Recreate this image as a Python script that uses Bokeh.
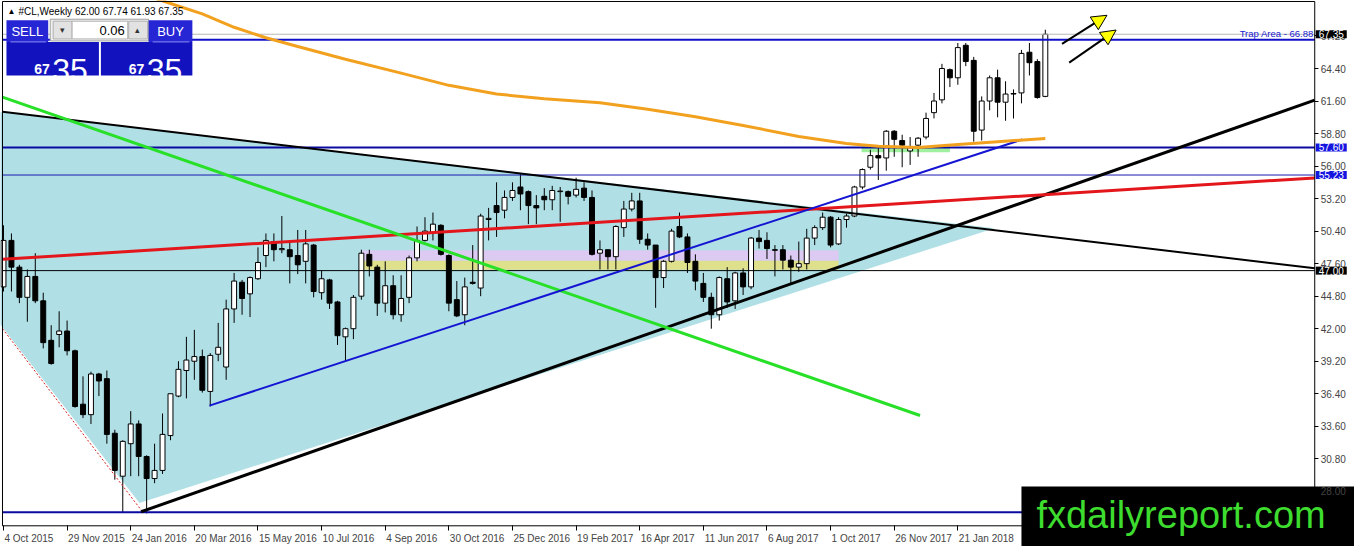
import numpy as np
from bokeh.embed import file_html
from bokeh.models import Arrow, FixedTicker, Label, NormalHead, PrintfTickFormatter, Range1d
from bokeh.plotting import figure
from bokeh.resources import INLINE

# weekly bars of #CL, bar 0 = week of 4 Oct 2015, bar 131 = week of 8 Apr 2018
opens = [45.6, 49.6, 47.3, 44.7, 46.5, 44.4, 41.0, 41.5, 41.8, 40.1,
         35.5, 34.6, 38.1, 37.7, 33.0, 29.3, 32.1, 33.8, 31.0, 29.1,
         29.8, 32.8, 36.2, 38.4, 39.2, 39.6, 36.6, 39.8, 38.7, 43.7,
         46.0, 45.0, 46.3, 48.3, 49.5, 48.8, 48.8, 48.3, 47.8, 49.2,
         45.1, 46.2, 44.3, 41.3, 42.0, 44.8, 48.4, 47.3, 44.2, 45.7,
         43.2, 44.7, 48.1, 49.6, 50.3, 50.9, 48.3, 44.5, 43.2, 46.0,
         45.5, 51.4, 52.6, 52.2, 53.3, 54.2, 53.8, 52.6, 53.4, 53.1,
         53.8, 53.8, 53.5, 54.1, 53.3, 48.5, 48.8, 48.2, 50.7, 52.3,
         53.0, 49.7, 49.2, 46.4, 47.8, 50.8, 49.9, 47.8, 45.9, 44.7,
         43.2, 46.3, 44.4, 46.8, 45.6, 49.8, 49.6, 48.8, 48.8, 47.9,
         47.3, 47.6, 49.8, 50.7, 51.6, 49.3, 51.4, 51.7, 54.2, 55.9,
         56.9, 56.7, 59.0, 58.2, 57.3, 57.8, 58.5, 60.6, 61.7, 64.3,
         63.6, 66.4, 65.1, 59.1, 61.6, 63.6, 61.5, 62.2, 62.3, 65.8,
         65.0, 62.00]
highs = [50.9, 50.2, 47.5, 47.1, 48.5, 45.1, 42.3, 43.5, 42.7, 40.2,
         37.9, 38.3, 38.2, 38.4, 33.3, 32.4, 34.9, 34.1, 31.1, 32.1,
         34.7, 36.4, 39.2, 41.3, 41.9, 40.2, 39.9, 42.5, 44.5, 46.8,
         46.2, 46.5, 49.0, 50.2, 50.2, 51.7, 49.5, 50.5, 50.5, 49.3,
         47.0, 46.3, 44.4, 42.1, 44.9, 48.8, 48.8, 47.5, 47.8, 46.6,
         46.6, 48.3, 50.8, 51.6, 52.0, 51.0, 48.4, 46.1, 46.4, 49.2,
         51.9, 52.4, 54.6, 53.9, 54.6, 55.3, 53.9, 53.5, 54.1, 54.3,
         54.2, 53.9, 55.0, 54.6, 53.9, 49.6, 48.8, 50.9, 53.0, 53.7,
         53.7, 50.2, 49.2, 47.9, 50.6, 52.0, 50.2, 48.4, 46.8, 45.1,
         46.5, 47.3, 46.9, 47.2, 49.9, 50.5, 50.3, 49.2, 49.2, 48.3,
         49.5, 50.6, 50.9, 52.0, 51.7, 51.6, 51.9, 54.3, 55.8, 57.4,
         57.7, 59.1, 59.1, 58.7, 58.5, 58.5, 60.6, 62.3, 64.8, 64.4,
         66.6, 66.6, 65.4, 62.0, 63.8, 64.3, 63.3, 62.6, 66.0, 66.6,
         65.2, 67.74]
lows = [45.2, 45.2, 44.2, 42.6, 44.2, 40.3, 38.9, 40.4, 39.7, 35.2,
        34.3, 33.8, 36.2, 32.1, 29.0, 26.2, 29.3, 29.3, 26.1, 28.7,
        29.5, 32.4, 36.1, 36.0, 37.6, 36.5, 35.3, 39.2, 37.6, 42.5,
        43.2, 43.0, 46.2, 47.3, 47.8, 48.5, 45.9, 46.7, 45.9, 44.7,
        44.5, 43.7, 40.6, 39.2, 41.1, 44.5, 46.5, 43.1, 43.4, 42.8,
        42.6, 44.2, 47.8, 49.5, 49.6, 48.3, 43.5, 43.0, 42.3, 45.8,
        44.8, 49.6, 49.9, 51.5, 53.0, 52.2, 51.0, 51.0, 52.2, 52.2,
        51.2, 52.7, 53.3, 53.0, 48.3, 47.1, 47.1, 47.1, 49.9, 52.1,
        49.3, 48.8, 43.8, 45.5, 47.7, 49.8, 46.8, 45.3, 44.3, 42.0,
        42.7, 43.8, 43.7, 44.9, 45.4, 48.9, 48.0, 46.5, 47.1, 45.8,
        46.9, 47.1, 49.2, 50.5, 49.0, 49.2, 50.7, 51.6, 54.0, 55.7,
        54.8, 55.6, 56.8, 55.9, 56.1, 56.8, 58.3, 60.1, 61.4, 62.8,
        63.0, 64.6, 58.1, 58.2, 60.8, 60.2, 59.9, 60.1, 61.4, 63.8,
        61.8, 61.93]
closes = [49.6, 47.3, 44.7, 46.5, 44.4, 40.8, 39.0, 41.8, 40.1, 35.3,
          34.6, 38.1, 37.5, 32.9, 29.8, 32.3, 33.8, 31.0, 29.1, 29.8,
          32.9, 36.4, 38.5, 39.3, 39.6, 36.7, 39.7, 40.4, 43.7, 46.1,
          44.6, 46.4, 47.7, 49.6, 48.8, 48.9, 48.2, 47.5, 49.3, 45.2,
          46.3, 44.2, 41.4, 42.0, 44.7, 48.5, 47.4, 44.2, 45.7, 43.2,
          44.6, 48.1, 49.6, 50.4, 51.0, 48.4, 44.2, 43.1, 45.6, 45.9,
          51.7, 51.5, 52.0, 53.3, 53.9, 53.6, 52.6, 52.4, 53.1, 53.9,
          53.85, 53.4, 54.0, 53.3, 48.4, 48.8, 48.2, 50.8, 52.3, 53.0,
          49.7, 49.2, 46.4, 47.8, 50.4, 49.9, 47.7, 46.1, 44.7, 43.2,
          46.4, 44.3, 46.8, 45.6, 49.8, 49.5, 48.9, 48.75, 47.9, 47.3,
          47.6, 49.8, 50.7, 51.6, 49.2, 51.4, 51.7, 54.2, 55.7, 56.9,
          56.7, 59.0, 58.3, 57.8, 57.6, 58.4, 60.1, 61.6, 64.4, 63.6,
          66.2, 65.0, 59.0, 61.6, 63.6, 61.5, 62.2, 62.25, 65.7, 64.9,
          61.9, 67.35]

# orange moving average at some bars
ma_bar = [19, 21, 25, 29, 33, 37, 43, 50, 56, 62, 68, 75, 81, 87, 93, 100,
          106, 110, 115, 120, 125, 131]
ma_val = [70.45, 70.0, 69.1, 67.95, 67.05, 66.3, 65.2, 64.0, 62.95, 62.2,
          61.8, 61.45, 60.9, 60.25, 59.5, 58.55, 57.95, 57.7, 57.6, 57.85,
          58.1, 58.38]

# time axis labels, one every 8 bars
date_bars = list(range(0, 121, 8))
date_labels = ["4 Oct 2015", "29 Nov 2015", "24 Jan 2016", "20 Mar 2016",
               "15 May 2016", "10 Jul 2016", "4 Sep 2016", "30 Oct 2016",
               "25 Dec 2016", "19 Feb 2017", "16 Apr 2017", "11 Jun 2017",
               "6 Aug 2017", "1 Oct 2017", "26 Nov 2017", "21 Jan 2018"]

price_ticks = [28.0, 30.8, 33.6, 36.4, 39.2, 42.0, 44.8, 47.6, 50.4, 53.2,
               56.0, 58.8, 61.6, 64.4, 67.2]

last_price = 67.35
trap_level = 66.88
blue_levels = [57.60, 26.20]
thin_blue_level = 55.23
black_level = 47.00

# drawn objects: (bar0, price0, bar1, price1)
tri_bar = [-23.4, 17.1, 124.6]
tri_price = [62.5, 27.0, 50.65]
desc_line = [-0.125, 60.67, 164.875, 47.2]
asc_line = [17.3, 26.24, 164.875, 61.68]
red_line = [-0.125, 47.97, 164.875, 54.98]
green_line = [-0.125, 61.94, 115.25, 34.53]
blue_line = [25.9, 35.38, 128.1, 58.29]
dotted_line = [-0.125, 42.0, 17.5, 26.22]
pink_band = [45.0, 105.0, 47.85, 48.75]
yellow_band = [45.0, 105.0, 47.07, 47.85]
green_band = [107.9, 119.0, 57.2, 57.7]
arrow_1 = [133.1, 66.52, 138.75, 68.98]
arrow_2 = [134.0, 64.91, 139.9, 67.71]


# pixel of the original 1362x554 terminal picture -> chart units (for the overlays)
def X(px):
    return (px - 3) / 8.0


def Y(py):
    return 64.4 - (py - 69) / 11.786


FONT = "Liberation Sans"
W, H = 1354, 546
LEFT, RIGHT, TOP, BOTTOM = X(2), X(1322), Y(1), Y(533)

# the frame fills the whole figure; the axes are pinned where the terminal draws them
p = figure(width=W, height=H, x_range=Range1d(X(0), X(1362)), y_range=Range1d(Y(554), Y(0)),
           y_axis_location="right", toolbar_location=None, output_backend="svg",
           min_border=0)
p.outline_line_color = None
p.grid.visible = False
p.background_fill_color = "white"
p.border_fill_color = "white"

# triangle and zones
p.patch(tri_bar, tri_price, fill_color="#b0e0e6", line_color=None)
for band, col in [(pink_band, "#dccaf3"), (yellow_band, "#dfe08c"), (green_band, "#9ff09f")]:
    p.quad(left=[band[0]], right=[band[1]], bottom=[band[2]], top=[band[3]],
           fill_color=col, line_color=None)

# candles
bars = np.arange(len(closes))
o = np.array(opens)
c = np.array(closes)
p.segment(bars, lows, bars, highs, line_color="black", line_width=1)
p.vbar(x=bars, width=0.62, top=np.maximum(o, c), bottom=np.minimum(o, c),
       fill_color=["white" if cc >= oo else "black" for oo, cc in zip(o, c)],
       line_color="black", line_width=1)

# horizontal levels
p.segment([LEFT], [last_price], [RIGHT], [last_price], line_color="#b8b8b8", line_width=1)
p.segment([LEFT], [trap_level], [RIGHT], [trap_level], line_color="#1010c8", line_width=2)
p.segment([LEFT] * 2, blue_levels, [RIGHT] * 2, blue_levels, line_color="#0a0aa0", line_width=2)
p.segment([LEFT], [thin_blue_level], [RIGHT], [thin_blue_level], line_color="#1a1ab0",
          line_width=1)
p.segment([LEFT], [black_level], [RIGHT], [black_level], line_color="black", line_width=1)


# trend lines
def tline(seg, **kw):
    p.line([seg[0], seg[2]], [seg[1], seg[3]], **kw)


tline(dotted_line, line_color="#d42020", line_width=1, line_dash="2 2")
tline(desc_line, line_color="black", line_width=2)
tline(asc_line, line_color="black", line_width=3)
tline(red_line, line_color="#e3161b", line_width=3)
tline(green_line, line_color="#28e028", line_width=3)
tline(blue_line, line_color="#1414d2", line_width=2)
p.line(ma_bar, ma_val, line_color="#f2a11f", line_width=3)

# chart window border
p.quad(left=[LEFT], right=[RIGHT], top=[TOP], bottom=[BOTTOM], fill_color=None,
       line_color="black", line_width=1)

# order panel (top left)
p.quad(left=[X(50)], right=[X(149)], top=[Y(19)], bottom=[Y(41)],
       fill_color="#efefef", line_color="#a0a0a0")
p.quad(left=[X(6), X(149)], right=[X(48), X(193)], top=[Y(20)] * 2, bottom=[Y(42)] * 2,
       fill_color="#2626d4", line_color=None)
p.quad(left=[X(6), X(101)], right=[X(99), X(193)], top=[Y(42)] * 2, bottom=[Y(76)] * 2,
       fill_color="#1212bf", line_color=None)
p.quad(left=[X(53), X(129)], right=[X(72), X(148)], top=[Y(21)] * 2, bottom=[Y(39)] * 2,
       fill_color="#e2e2e2", line_color="#b0b0b0")
p.quad(left=[X(72)], right=[X(128)], top=[Y(21)], bottom=[Y(39)],
       fill_color="white", line_color="#b0b0b0")
p.segment([X(10), X(153)], [Y(42)] * 2, [X(46), X(190)], [Y(42)] * 2,
          line_color="#8c8cf0", line_width=1)

# watermark box (bottom right corner)
p.quad(left=[X(1027)], right=[X(1362)], top=[Y(493)], bottom=[Y(554)],
       fill_color="black", line_color=None)


def lab(px, py, text, size, color="black", align="left", baseline="middle", style="normal", **kw):
    p.add_layout(Label(x=X(px), y=Y(py), text=text, text_font=FONT, text_font_size=size,
                       text_color=color, text_align=align, text_baseline=baseline,
                       text_font_style=style, **kw))


lab(7, 11, "\u25b2", "8px")
lab(18, 11, "#CL,Weekly  62.00 67.74 61.93 67.35", "10px")
lab(27, 31, "SELL", "13px", "white", "center")
lab(171, 31, "BUY", "13px", "white", "center")
lab(125, 30, "0.06", "13px", "black", "right")
lab(62, 30, "\u25be", "9px", "#333333", "center")
lab(138, 30, "\u25b4", "9px", "#333333", "center")
for bx in (0, 95):
    lab(34 + bx, 70, "67", "14px", "white", "left", "alphabetic", "bold")
    lab(52 + bx, 71, "35", "32px", "white", "left", "alphabetic")

lab(1321, 33, "Trap Area - 66.88", "9.5px", "#2020d0", "right")

# highlighted prices on the price scale
for price, bg in [(last_price, "black"), (57.60, "#1515e0"), (thin_blue_level, "#1515e0"),
                  (black_level, "black")]:
    p.add_layout(Label(x=RIGHT, y=price, x_offset=1, text="%.2f" % price, text_font=FONT,
                       text_font_size="10px", text_color="white", text_baseline="middle",
                       background_fill_color=bg,
                       padding=dict(left=3, right=3, top=0, bottom=0)))

# arrows
for a in (arrow_1, arrow_2):
    p.add_layout(Arrow(end=NormalHead(size=15, fill_color="#ffff00", line_color="black",
                                      line_width=1),
                       x_start=a[0], y_start=a[1], x_end=a[2], y_end=a[3],
                       line_color="black", line_width=2))

# watermark text
lab(1042, 522, "fxdailyreport.com", "38px", "#3ddc2e", "left", "middle")

# price scale
p.yaxis.fixed_location = RIGHT
p.yaxis.ticker = FixedTicker(ticks=price_ticks)
p.yaxis.formatter = PrintfTickFormatter(format="%.2f")
p.yaxis.major_label_text_font = FONT
p.yaxis.major_label_text_font_size = "10px"
p.yaxis.major_label_standoff = 2
p.yaxis.major_tick_out = 4
p.yaxis.major_tick_in = 0
p.yaxis.minor_tick_line_color = None
p.yaxis.axis_line_color = None

# MT4 writes the date to the right of its tick: put the (centred) labels half a
# label width to the right of the tick, and draw the ticks as minor ticks
DATE_PX = 10
ARIAL = {" ": .278, "0": .556, "1": .556, "2": .556, "4": .556, "5": .556, "6": .556,
         "7": .556, "8": .556, "9": .556, "3": .556, "O": .778, "c": .5, "t": .278,
         "N": .722, "o": .556, "v": .5, "J": .5, "a": .556, "n": .556, "M": .833,
         "r": .333, "y": .5, "u": .556, "l": .222, "S": .667, "e": .556, "p": .556,
         "D": .722, "F": .611, "b": .556, "A": .667, "g": .556}
px_per_bar = W / (X(1362) - X(0))
label_pos = [b + (sum(ARIAL.get(ch, .55) for ch in t) * DATE_PX / 2 + 1) / px_per_bar
             for b, t in zip(date_bars, date_labels)]
p.xaxis.fixed_location = BOTTOM
p.xaxis.ticker = FixedTicker(ticks=label_pos, minor_ticks=date_bars)
p.xaxis.major_label_overrides = {pos: t for pos, t in zip(label_pos, date_labels)}
p.xaxis.major_label_text_font = FONT
p.xaxis.major_label_text_font_size = "%dpx" % DATE_PX
p.xaxis.major_label_standoff = 2
p.xaxis.major_tick_line_color = None
p.xaxis.major_tick_out = 0
p.xaxis.major_tick_in = 0
p.xaxis.minor_tick_out = 5
p.xaxis.minor_tick_in = 0
p.xaxis.minor_tick_line_color = "black"
p.xaxis.axis_line_color = None

open("out.html", "w").write(file_html(p, INLINE))
